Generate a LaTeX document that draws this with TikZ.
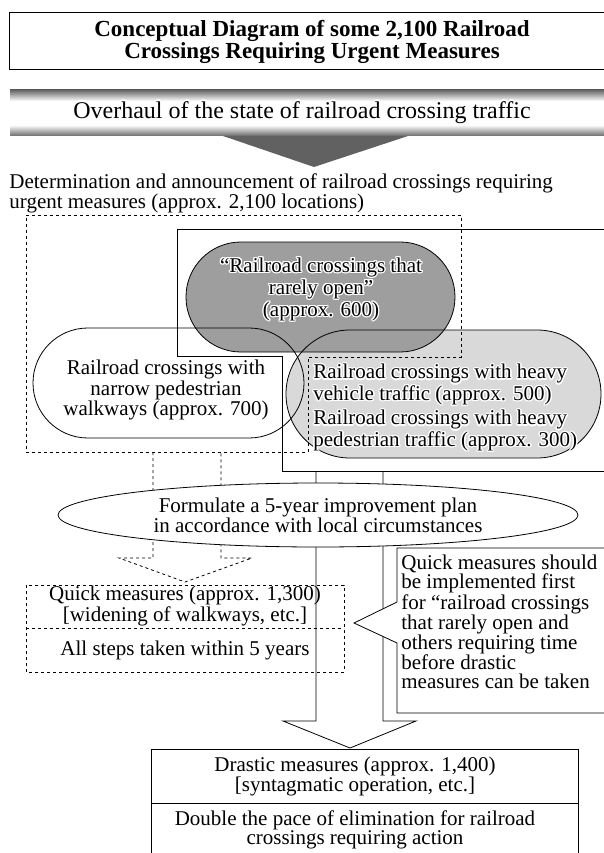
\documentclass[tikz,border=0pt]{standalone}
\usepackage{fontspec}
\setmainfont{Liberation Serif}
\usepackage{contour}
\usepackage{pgf,tikz}
\contourlength{1.3pt}
\newcommand{\halo}[1]{\contour{white}{#1}}
\newcommand{\bodyfont}{\fontsize{21}{19}\selectfont}
\usetikzlibrary{shapes, arrows, positioning}
\pgfdeclareverticalshading{barshade}{100bp}{color(0bp)=(black!58); color(25bp)=(black!58); color(37bp)=(white); color(63bp)=(white); color(75bp)=(black!60); color(100bp)=(black!60)}
\tikzstyle{stadium} = [draw, line width=0.8pt]
\tikzstyle{plain} = [inner sep=0pt, font=\bodyfont, align=center]
\tikzstyle{blockarrow} = [draw, line width=0.8pt]

\begin{document}
\begin{tikzpicture}[x=1pt, y=-1pt, line width=0.8pt]
	\useasboundingbox (0,0) rectangle (604,853);
	\clip (0,0) rectangle (604,853);
	% title
	\draw (9,12) rectangle (612,69);
	\node[plain, font=\fontsize{23}{21}\selectfont\bfseries] (title) at (312,42) {Conceptual Diagram of some 2,100 Railroad\\Crossings Requiring Urgent Measures};
	% overhaul bar
	\shade[shading=barshade] (10,90) rectangle (612,136);
	\node[plain, font=\fontsize{24}{24}\selectfont] (overhaul) at (302,113) {\halo{Overhaul of the state of railroad crossing traffic}};
	\fill[black!62] (223,136) -- (408,136) -- (314,167) -- cycle;
	\node[plain, align=left, anchor=north west, font=\fontsize{21}{16}\selectfont] (determ) at (9,173) {Determination and announcement of railroad crossings requiring\\urgent measures (approx. 2,100 locations)};
	% the three groups
	\fill[black!15, rounded corners=63.9pt] (286,330) rectangle (601,458);
	\fill[black!38, rounded corners=54.9pt] (186,242) rectangle (455,352);
	\draw[stadium, rounded corners=54.9pt] (186,242) rectangle (455,352);
	\draw[stadium, rounded corners=54.9pt] (33,328) rectangle (304,438);
	\draw[stadium, rounded corners=63.9pt] (286,330) rectangle (601,458);
	\draw[dashed] (26,215) -- (461,215) -- (461,357) -- (308,357) -- (308,452) -- (26,452) -- cycle;
	\draw (612,229) -- (177,229) -- (177,356) -- (282,356) -- (282,471) -- (612,471);
	\node[plain, font=\fontsize{21}{22}\selectfont] (rare) at (321,290) {\halo{“Railroad crossings that}\\\halo{rarely open”}\\\halo{(approx. 600)}};
	\node[plain] (narrow) at (166,390) {Railroad crossings with\\narrow pedestrian\\walkways (approx. 700)};
	\node[plain, align=left, anchor=north west, font=\fontsize{21}{18}\selectfont] (heavy) at (313,364) {\halo{Railroad crossings with heavy}\\\halo{vehicle traffic (approx. 500)}\\[3pt]\halo{Railroad crossings with heavy}\\\halo{pedestrian traffic (approx. 300)}};
	% block arrows
	\draw[dashed] (153,452) -- (153,558) -- (119,558) -- (185,582) -- (252,558) -- (221,558) -- (221,452);
	\draw[blockarrow] (316,471) -- (316,721) -- (283,721) -- (350,748) -- (416,721) -- (383,721) -- (383,471);
	\node[ellipse, draw, fill=white, minimum width=520pt, minimum height=64pt, inner sep=0pt, font=\fontsize{21}{17}\selectfont, align=center] (plan) at (318,515) {Formulate a 5-year improvement plan\\in accordance with local circumstances};
	% quick measures
	\draw[dashed] (26,585) rectangle (344,672);
	\draw[dashed] (26,628) -- (344,628);
	\node[plain] (quick) at (185,606) {Quick measures (approx. 1,300)\\{[}widening of walkways, etc.{]}};
	\node[plain] (within) at (185,650) {All steps taken within 5 years};
	% callout
	\draw[fill=white] (397,548) -- (612,548) -- (612,713) -- (397,713) -- (397,643) -- (354,623) -- (397,602) -- cycle;
	\node[plain, align=left, anchor=north west] (first) at (401,555) {Quick measures should\\be implemented first\\for “railroad crossings\\that rarely open and\\others requiring time\\before drastic\\measures can be taken};
	% drastic measures
	\draw (151,749) rectangle (578,870);
	\draw (151,803) -- (578,803);
	\node[plain] (drastic) at (355,776) {Drastic measures (approx. 1,400)\\{[}syntagmatic operation, etc.{]}};
	\node[plain] (double) at (355,830) {Double the pace of elimination for railroad\\crossings requiring action};
\end{tikzpicture}
\end{document}
